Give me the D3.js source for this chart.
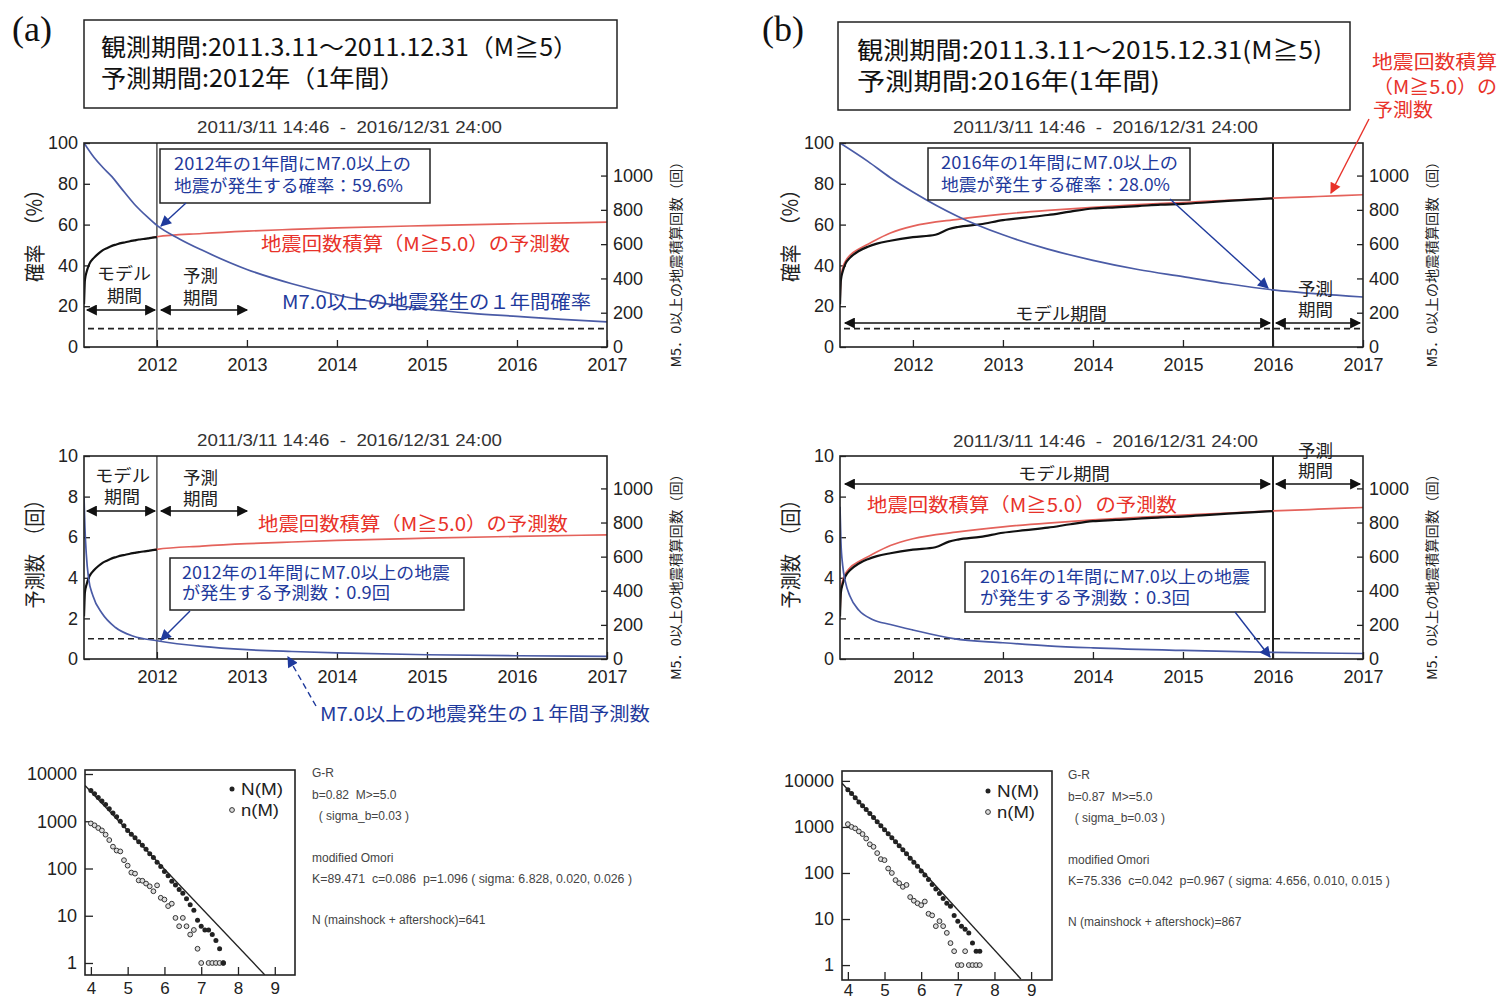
<!DOCTYPE html>
<html lang="ja">
<head>
<meta charset="utf-8">
<title>余震活動の予測</title>
<style>
  body { margin: 0; background: #fff; }
  svg { display: block; }
  text { font-family: 'Noto Sans CJK JP', sans-serif; }
  .num text, text.num { font-family: 'Liberation Sans', Arial, sans-serif; }
</style>
</head>
<body>
<svg width="1501" height="1000"></svg>
<script src="https://d3js.org/d3.v7.min.js"></script>
<script>
// ---- time axis, shared ----
var startYear = 2011.19, endYear = 2017;
var yearTicks = [2012, 2013, 2014, 2015, 2016, 2017];
var probTicks = [0, 20, 40, 60, 80, 100];
var countTicks = [0, 2, 4, 6, 8, 10];
var cumTicks = [0, 200, 400, 600, 800, 1000];
var cumMax = 1190;
var probLine = 9;     // dashed reference on probability plots
var countLine = 1;    // dashed reference on count plots

// ---- (a) model period 2011.3.11 - 2011.12.31 ----
var obsYearsA = [2011.19, 2011.195, 2011.2, 2011.22, 2011.25, 2011.3, 2011.35, 2011.4, 2011.45, 2011.5, 2011.55, 2011.6, 2011.65, 2011.7, 2011.75, 2011.8, 2011.85, 2011.9, 2011.95, 2012.0];
var obsCountA = [250, 330, 390, 440, 485, 520, 545, 565, 578, 590, 598, 606, 611, 617, 622, 627, 630, 634, 638, 641];
var predYearsA = [2011.95, 2012.0, 2012.5, 2013, 2013.5, 2014, 2015, 2016, 2017];
var predCountA = [638, 643, 662, 676, 686, 695, 708, 719, 728];
var probYearsA = [2011.19, 2011.3, 2011.4, 2011.5, 2011.6, 2011.75, 2011.9, 2012.0, 2012.25, 2012.5, 2013, 2013.5, 2014, 2014.5, 2015, 2015.5, 2016, 2016.5, 2017];
var probA = [100, 93, 88, 83.5, 78, 70, 63.5, 59.6, 53, 47.5, 38, 31, 25.5, 21.5, 18.5, 16.5, 15, 13.5, 12.3];
var rateYearsA = [2011.19, 2011.2, 2011.215, 2011.24, 2011.29, 2011.39, 2011.54, 2011.74, 2012.0, 2012.5, 2013, 2013.5, 2014, 2015, 2016, 2017];
var rateA = [8.0, 6.5, 5.2, 4.0, 3.1, 2.25, 1.55, 1.12, 0.9, 0.62, 0.46, 0.37, 0.3, 0.21, 0.16, 0.13];

// ---- (b) model period 2011.3.11 - 2015.12.31 ----
var obsYearsB = [2011.19, 2011.2, 2011.22, 2011.25, 2011.3, 2011.4, 2011.5, 2011.6, 2011.75, 2012.0, 2012.25, 2012.4, 2012.5, 2012.75, 2013, 2013.25, 2013.5, 2013.75, 2014, 2014.25, 2014.5, 2014.75, 2015, 2015.25, 2015.5, 2015.75, 2016];
var obsCountB = [250, 390, 440, 485, 520, 560, 585, 603, 620, 641, 655, 688, 700, 716, 740, 755, 770, 790, 808, 815, 822, 830, 835, 843, 852, 860, 867];
var predYearsB = [2011.19, 2011.2, 2011.22, 2011.25, 2011.3, 2011.4, 2011.5, 2011.75, 2012.0, 2012.5, 2013, 2013.5, 2014, 2014.5, 2015, 2015.5, 2016, 2016.5, 2017];
var predCountB = [250, 400, 460, 500, 535, 572, 600, 665, 705, 745, 775, 797, 815, 830, 843, 856, 868, 878, 888];
var probYearsB = [2011.19, 2011.5, 2011.75, 2012, 2012.5, 2013, 2013.5, 2014, 2014.5, 2015, 2015.5, 2016, 2016.5, 2017];
var probB = [100, 91, 83, 76, 64, 55, 48, 42.5, 38, 34.5, 31, 28, 26, 24.5];
var rateYearsB = [2011.19, 2011.2, 2011.22, 2011.25, 2011.3, 2011.4, 2011.55, 2011.75, 2012, 2012.45, 2013, 2013.5, 2014, 2015, 2016, 2017];
var rateB = [7.5, 5.8, 4.6, 3.8, 3.1, 2.4, 1.95, 1.7, 1.43, 1.0, 0.8, 0.65, 0.55, 0.42, 0.33, 0.27];

// ---- G-R magnitude frequency ----
var magnitudes = [4.0, 4.1, 4.2, 4.3, 4.4, 4.5, 4.6, 4.7, 4.8, 4.9, 5.0, 5.1, 5.2, 5.3, 5.4, 5.5, 5.6, 5.7, 5.8, 5.9, 6.0, 6.1, 6.2, 6.3, 6.4, 6.5, 6.6, 6.7, 6.8, 6.9, 7.0, 7.1, 7.2, 7.3, 7.4, 7.5, 7.6];
var cumNA = [4500, 3800, 3200, 2700, 2250, 1850, 1500, 1250, 1000, 800, 641, 530, 450, 370, 310, 255, 205, 170, 135, 110, 86, 70, 54, 45, 36, 30, 23, 17, 13, 8, 6, 5, 5, 4, 3, 2, 1];
var nA = [900, 820, 720, 640, 520, 400, 290, 240, 230, 150, 115, 82, 78, 56, 55, 48, 42, 33, 44, 24, 22, 16, 18, 9, 6, 9, 6, 4, 5, 2, 1, 0, 1, 1, 1, 1, 1];
var cumNB = [6400, 5300, 4300, 3500, 2900, 2400, 1950, 1600, 1300, 1060, 867, 710, 580, 475, 390, 320, 260, 210, 170, 140, 110, 90, 72, 56, 45, 36, 28, 22, 19, 12, 9, 7, 6, 5, 3, 2, 2];
var nB = [1150, 1000, 930, 800, 700, 560, 420, 370, 270, 200, 190, 125, 100, 70, 60, 50, 55, 30, 25, 22, 20, 24, 13, 12, 7, 9, 7, 5, 3, 2, 1, 1, 2, 1, 1, 1, 1];
var grLineA = { m: [3.84, 8.73], n: [5700, 0.56] };
var grLineB = { m: [3.84, 8.72], n: [8850, 0.5] };
var grTicksY = [1, 10, 100, 1000, 10000];
var grTicksX = [4, 5, 6, 7, 8, 9];
var grTextA = ['G-R', 'b=0.82  M>=5.0', '  ( sigma_b=0.03 )', 'modified Omori', 'K=89.471  c=0.086  p=1.096 ( sigma: 6.828, 0.020, 0.026 )', 'N (mainshock + aftershock)=641'];
var grTextB = ['G-R', 'b=0.87  M>=5.0', '  ( sigma_b=0.03 )', 'modified Omori', 'K=75.336  c=0.042  p=0.967 ( sigma: 4.656, 0.010, 0.015 )', 'N (mainshock + aftershock)=867'];

var periodTitle = '2011/3/11 14:46  -  2016/12/31 24:00';
var probTitle = '確率　（%）';
var countTitle = '予測数　（回）';
var cumTitle = 'M5．0以上の地震積算回数（回）';
var redLabel = '地震回数積算（M≧5.0）の予測数';

var blueCurve = '#4a5ba6', redCurve = '#e4625b', blueText = '#1f3a9c', redText = '#e8322a';

var svg = d3.select('svg');
var defs = svg.append('defs');
[['blue', blueText], ['black', '#111'], ['red', redText]].forEach(function (m) {
  defs.append('marker').attr('id', 'head-' + m[0])
    .attr('viewBox', '0 0 10 10').attr('refX', 9).attr('refY', 5)
    .attr('markerWidth', 13).attr('markerHeight', 11)
    .attr('markerUnits', 'userSpaceOnUse').attr('orient', 'auto-start-reverse')
    .append('path').attr('d', 'M0,0L10,5L0,10Z').attr('fill', m[1]);
});

function txt(x, y, s, o) {
  o = o || {};
  var t = svg.append('text').attr('x', x).attr('y', y).text(s)
    .attr('font-size', o.size || 17)
    .attr('fill', o.color || '#222')
    .style('white-space', 'pre');
  if (o.num) t.attr('class', 'num');
  if (o.serif) t.style('font-family', "'Liberation Serif', serif");
  if (o.width) t.attr('textLength', o.width).attr('lengthAdjust', 'spacingAndGlyphs');
  if (o.anchor) t.attr('text-anchor', o.anchor);
  if (o.rotate) t.attr('transform', 'rotate(-90 ' + x + ' ' + y + ')');
  return t;
}

function arrow(x1, y1, x2, y2, color, dashed) {
  var l = svg.append('line').attr('x1', x1).attr('y1', y1).attr('x2', x2).attr('y2', y2)
    .attr('stroke', color === 'blue' ? blueText : color === 'red' ? redText : '#111')
    .attr('stroke-width', 1.4)
    .attr('marker-end', 'url(#head-' + color + ')');
  if (dashed) l.attr('stroke-dasharray', '6 4');
  return l;
}

function dblArrow(x1, x2, y) {
  svg.append('line').attr('x1', x1).attr('x2', x2).attr('y1', y).attr('y2', y)
    .attr('stroke', '#111').attr('stroke-width', 1.6)
    .attr('marker-start', 'url(#head-black)').attr('marker-end', 'url(#head-black)');
}

function box(x, y, w, h) {
  svg.append('rect').attr('x', x).attr('y', y).attr('width', w).attr('height', h)
    .attr('fill', '#fff').attr('stroke', '#222').attr('stroke-width', 1.5);
}

function styleAxis(size) {
  return function (g) {
    g.select('.domain').remove();
    g.attr('class', 'num');
    g.selectAll('.tick line').attr('stroke', '#222').attr('stroke-width', 1.3);
    g.selectAll('.tick text').attr('font-size', size).attr('fill', '#222');
  };
}

var clipN = 0;
function clip(f) {
  var id = 'clip' + (clipN++);
  defs.append('clipPath').attr('id', id).append('rect')
    .attr('x', f.x0).attr('y', f.y0).attr('width', f.x1 - f.x0).attr('height', f.y1 - f.y0);
  return 'url(#' + id + ')';
}

function timePanel(f, o) {
  var x = d3.scaleLinear().domain([startYear, endYear]).range([f.x0, f.x1]);
  var yL = d3.scaleLinear().domain([0, o.leftMax]).range([f.y1, f.y0]);
  var yR = d3.scaleLinear().domain([0, cumMax]).range([f.y1, f.y0]);

  svg.append('g').attr('transform', 'translate(0,' + f.y1 + ')')
    .call(d3.axisBottom(x).tickValues(yearTicks).tickFormat(d3.format('d')).tickSize(-7).tickPadding(11))
    .call(styleAxis(18));
  svg.append('g').attr('transform', 'translate(' + f.x0 + ',0)')
    .call(d3.axisLeft(yL).tickValues(o.leftTicks).tickFormat(d3.format('d')).tickSize(-6).tickPadding(6))
    .call(styleAxis(18));
  svg.append('g').attr('transform', 'translate(' + f.x1 + ',0)')
    .call(d3.axisRight(yR).tickValues(cumTicks).tickFormat(d3.format('d')).tickSize(-6).tickPadding(6))
    .call(styleAxis(18));

  var plot = svg.append('g').attr('clip-path', clip(f));
  plot.append('line').attr('x1', f.x0 + 4).attr('x2', f.x1).attr('y1', yL(o.refLine)).attr('y2', yL(o.refLine))
    .attr('stroke', '#222').attr('stroke-width', 1.6).attr('stroke-dasharray', '6 4');
  plot.append('line').attr('x1', x(o.split)).attr('x2', x(o.split)).attr('y1', f.y0).attr('y2', f.y1)
    .attr('stroke', '#222').attr('stroke-width', o.splitWidth);

  var lineL = d3.line().x(function (d) { return x(d[0]); }).y(function (d) { return yL(d[1]); }).curve(d3.curveMonotoneX);
  var lineR = d3.line().x(function (d) { return x(d[0]); }).y(function (d) { return yR(d[1]); }).curve(d3.curveMonotoneX);
  plot.append('path').datum(d3.zip(o.predT, o.predV)).attr('d', lineR)
    .attr('fill', 'none').attr('stroke', redCurve).attr('stroke-width', 1.7);
  plot.append('path').datum(d3.zip(o.obsT, o.obsV)).attr('d', lineR)
    .attr('fill', 'none').attr('stroke', '#111').attr('stroke-width', 2.2);
  plot.append('path').datum(d3.zip(o.blueT, o.blueV)).attr('d', lineL)
    .attr('fill', 'none').attr('stroke', blueCurve).attr('stroke-width', 1.7);

  svg.append('rect').attr('x', f.x0).attr('y', f.y0).attr('width', f.x1 - f.x0).attr('height', f.y1 - f.y0)
    .attr('fill', 'none').attr('stroke', '#222').attr('stroke-width', 1.6);

  txt((f.x0 + f.x1) / 2 + 4, o.titleY, periodTitle, { num: true, size: 16, width: 305, anchor: 'middle', color: '#333' });
  txt(f.x0 - 42, (f.y0 + f.y1) / 2 + o.leftTitleDy, o.leftTitle, { size: 21, width: o.leftTitleLen, anchor: 'middle', rotate: true });
  txt(f.x1 + 74, (f.y0 + f.y1) / 2 + 16, cumTitle, { size: 13.5, width: 213, anchor: 'middle', rotate: true });
}

function grPanel(f, o) {
  var x = d3.scaleLinear().domain(o.magDomain).range([f.x0, f.x1]);
  var y = d3.scaleLog().domain(o.countDomain).range([f.y1, f.y0]);
  svg.append('g').attr('transform', 'translate(0,' + f.y1 + ')')
    .call(d3.axisBottom(x).tickValues(grTicksX).tickFormat(d3.format('d')).tickSize(-8).tickPadding(o.padX))
    .call(styleAxis(17));
  svg.append('g').attr('transform', 'translate(' + f.x0 + ',0)')
    .call(d3.axisLeft(y).tickValues(grTicksY).tickFormat(d3.format('d')).tickSize(-8).tickPadding(8))
    .call(styleAxis(18));

  var plot = svg.append('g').attr('clip-path', clip(f));
  plot.append('line')
    .attr('x1', x(o.line.m[0])).attr('y1', y(o.line.n[0]))
    .attr('x2', x(o.line.m[1])).attr('y2', y(o.line.n[1]))
    .attr('stroke', '#222').attr('stroke-width', 1.4);
  var pts = magnitudes.map(function (m, i) { return { m: m, cum: o.cum[i], n: o.n[i] }; });
  plot.selectAll('.nm').data(pts.filter(function (d) { return d.n > 0; })).enter().append('circle')
    .attr('cx', function (d) { return x(d.m); }).attr('cy', function (d) { return y(d.n); })
    .attr('r', 2.4).attr('fill', '#ddd').attr('stroke', '#333').attr('stroke-width', 1);
  plot.selectAll('.cm').data(pts).enter().append('circle')
    .attr('cx', function (d) { return x(d.m); }).attr('cy', function (d) { return y(d.cum); })
    .attr('r', 2.5).attr('fill', '#222');

  svg.append('rect').attr('x', f.x0).attr('y', f.y0).attr('width', f.x1 - f.x0).attr('height', f.y1 - f.y0)
    .attr('fill', 'none').attr('stroke', '#222').attr('stroke-width', 1.6);

  // legend
  svg.append('circle').attr('cx', o.legX).attr('cy', o.legY).attr('r', 2.5).attr('fill', '#222');
  svg.append('circle').attr('cx', o.legX).attr('cy', o.legY + 21).attr('r', 2.4).attr('fill', '#ddd').attr('stroke', '#333');
  txt(o.legX + 9, o.legY + 6, 'N(M)', { num: true, size: 17, width: 42 });
  txt(o.legX + 9, o.legY + 27, 'n(M)', { num: true, size: 17, width: 38 });

  var gaps = [0, 22, 43, 85, 106, 147];
  o.text.forEach(function (s, i) {
    var opt = { num: true, size: 12, color: '#444' };
    if (i === 4) opt.width = o.kWidth;
    txt(o.textX, o.textY + gaps[i], s, opt);
  });
}

// ---------------- headers ----------------
txt(12, 41, '(a)', { serif: true, size: 36, color: '#111' });
box(84, 20, 533, 88);
txt(101, 56, '観測期間:2011.3.11～2011.12.31（M≧5）', { size: 24, width: 477, color: '#111' });
txt(101, 87, '予測期間:2012年（1年間）', { size: 24, width: 304, color: '#111' });

txt(762, 41, '(b)', { serif: true, size: 36, color: '#111' });
box(838, 22, 512, 88);
txt(857, 59, '観測期間:2011.3.11～2015.12.31(M≧5)', { size: 24, width: 465, color: '#111' });
txt(857, 90, '予測期間:2016年(1年間)', { size: 24, width: 303, color: '#111' });

txt(1372, 69, '地震回数積算', { size: 19, width: 125, color: redText });
txt(1373, 94, '（M≧5.0）の', { size: 19, width: 124, color: redText });
txt(1373, 117, '予測数', { size: 19, width: 60, color: redText });

// ---------------- time panels ----------------
var fAT = { x0: 84, x1: 607, y0: 143, y1: 347 };
var fAB = { x0: 84, x1: 607, y0: 456, y1: 659 };
var fBT = { x0: 840, x1: 1363, y0: 143, y1: 347 };
var fBB = { x0: 840, x1: 1363, y0: 456, y1: 659 };

timePanel(fAT, { leftMax: 100, leftTicks: probTicks, refLine: probLine, split: 2012, splitWidth: 1.2,
  blueT: probYearsA, blueV: probA, obsT: obsYearsA, obsV: obsCountA, predT: predYearsA, predV: predCountA,
  titleY: 133, leftTitle: probTitle, leftTitleLen: 102, leftTitleDy: -14 });
timePanel(fAB, { leftMax: 10, leftTicks: countTicks, refLine: countLine, split: 2012, splitWidth: 1.2,
  blueT: rateYearsA, blueV: rateA, obsT: obsYearsA, obsV: obsCountA, predT: predYearsA, predV: predCountA,
  titleY: 446, leftTitle: countTitle, leftTitleLen: 118, leftTitleDy: -8 });
timePanel(fBT, { leftMax: 100, leftTicks: probTicks, refLine: probLine, split: 2016, splitWidth: 2,
  blueT: probYearsB, blueV: probB, obsT: obsYearsB, obsV: obsCountB, predT: predYearsB, predV: predCountB,
  titleY: 133, leftTitle: probTitle, leftTitleLen: 102, leftTitleDy: -14 });
timePanel(fBB, { leftMax: 10, leftTicks: countTicks, refLine: countLine, split: 2016, splitWidth: 2,
  blueT: rateYearsB, blueV: rateB, obsT: obsYearsB, obsV: obsCountB, predT: predYearsB, predV: predCountB,
  titleY: 447, leftTitle: countTitle, leftTitleLen: 118, leftTitleDy: -8 });

// ---------------- annotations (a) top ----------------
box(160, 149, 270, 54);
txt(174, 170, '2012年の1年間にM7.0以上の', { width: 237, color: blueText });
txt(174, 192, '地震が発生する確率：59.6%', { width: 229, color: blueText });
arrow(186, 203, 161, 226, 'blue');
txt(261, 251, redLabel, { size: 19, width: 309, color: redText });
txt(97, 280, 'モデル', { width: 54 });
txt(107, 302, '期間', { width: 35 });
txt(183, 282, '予測', { width: 35 });
txt(183, 304, '期間', { width: 35 });
dblArrow(87, 155, 310);
dblArrow(161, 247, 310);
txt(282, 309, 'M7.0以上の地震発生の１年間確率', { size: 19, width: 309, color: blueText });

// ---------------- annotations (a) bottom ----------------
txt(95, 482, 'モデル', { width: 55 });
txt(104, 503, '期間', { width: 36 });
txt(183, 484, '予測', { width: 35 });
txt(183, 505, '期間', { width: 35 });
dblArrow(87, 155, 511);
dblArrow(161, 247, 511);
txt(258, 531, redLabel, { size: 19, width: 310, color: redText });
box(170, 558, 294, 52);
txt(182, 579, '2012年の1年間にM7.0以上の地震', { width: 268, color: blueText });
txt(182, 599, 'が発生する予測数：0.9回', { width: 208, color: blueText });
arrow(190, 611, 161, 640, 'blue');
arrow(316, 706, 288, 657, 'blue', true);
txt(320, 721, 'M7.0以上の地震発生の１年間予測数', { size: 19, width: 330, color: blueText });

// ---------------- annotations (b) top ----------------
box(928, 148, 262, 52);
txt(941, 169, '2016年の1年間にM7.0以上の', { width: 237, color: blueText });
txt(941, 191, '地震が発生する確率：28.0%', { width: 229, color: blueText });
arrow(1170, 199, 1268, 288, 'blue');
txt(1015, 320, 'モデル期間', { width: 92 });
dblArrow(845, 1270, 323);
dblArrow(1276, 1360, 323);
txt(1298, 295, '予測', { width: 35 });
txt(1298, 316, '期間', { width: 35 });
arrow(1369, 119, 1331, 193, 'red');

// ---------------- annotations (b) bottom ----------------
txt(1298, 457, '予測', { width: 35 });
txt(1298, 477, '期間', { width: 35 });
txt(1018, 480, 'モデル期間', { width: 92 });
dblArrow(845, 1270, 484);
dblArrow(1276, 1360, 484);
txt(867, 512, redLabel, { size: 19, width: 310, color: redText });
box(965, 562, 300, 50);
txt(980, 583, '2016年の1年間にM7.0以上の地震', { width: 270, color: blueText });
txt(980, 604, 'が発生する予測数：0.3回', { width: 210, color: blueText });
arrow(1235, 612, 1270, 657, 'blue');

// ---------------- G-R panels ----------------
grPanel({ x0: 85, x1: 295, y0: 770, y1: 975 }, {
  magDomain: [3.84, 9.55], countDomain: [0.557, 12160], padX: 7,
  line: grLineA, cum: cumNA, n: nA, legX: 232, legY: 789,
  text: grTextA, textX: 312, textY: 777, kWidth: 320 });
grPanel({ x0: 842, x1: 1052, y0: 771, y1: 980 }, {
  magDomain: [3.84, 9.57], countDomain: [0.474, 16400], padX: 4,
  line: grLineB, cum: cumNB, n: nB, legX: 988, legY: 791,
  text: grTextB, textX: 1068, textY: 779, kWidth: 322 });
</script>
</body>
</html>
